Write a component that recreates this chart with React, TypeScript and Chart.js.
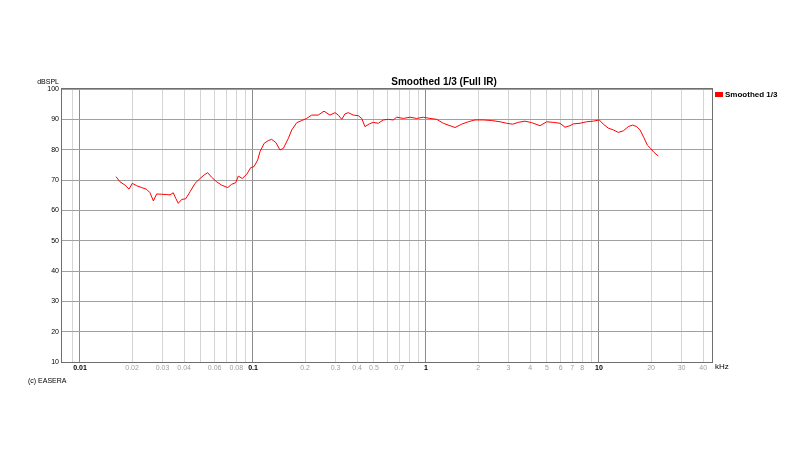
import React, { useEffect, useRef } from "react";
import { Chart, registerables } from "chart.js";

Chart.register(...registerables);

const freqKHz = [
  0.01615, 0.01703, 0.0182, 0.0192, 0.02006, 0.02128, 0.02275, 0.02431, 0.02541, 0.02655,
  0.02775, 0.02967, 0.03171, 0.03314, 0.03461, 0.03574, 0.037, 0.03873, 0.04085, 0.04325,
  0.04624, 0.04943, 0.05228, 0.0547, 0.05768, 0.06166, 0.06592, 0.07145, 0.07534, 0.07943,
  0.08222, 0.0867, 0.09204, 0.09705, 0.1014, 0.1064, 0.1097, 0.1161, 0.1225, 0.1282,
  0.1358, 0.1432, 0.1497, 0.16, 0.1675, 0.179, 0.1913, 0.2043, 0.2184, 0.2384,
  0.2573, 0.2786, 0.2979, 0.3112, 0.3258, 0.3402, 0.3556, 0.3801, 0.4062, 0.4251,
  0.4439, 0.47, 0.4955, 0.5297, 0.5662, 0.6053, 0.6471, 0.6771, 0.7395, 0.8081,
  0.8835, 0.9647, 1.054, 1.153, 1.259, 1.376, 1.471, 1.608, 1.756, 1.92,
  2.145, 2.398, 2.678, 2.928, 3.171, 3.416, 3.735, 4.083, 4.56, 4.985,
  5.443, 5.952, 6.362, 6.799, 7.103, 7.767, 8.49, 9.272, 10.04, 10.59,
  11.32, 12.1, 12.93, 13.82, 14.77, 15.66, 16.52, 17.26, 18.2, 19.02,
  19.9, 20.79, 22.02,
];

const splDb = [
  71.1, 69.4, 68.3, 67.0, 68.9, 68.1, 67.5, 66.9, 65.8, 63.1,
  65.4, 65.3, 65.2, 65.1, 65.8, 64.0, 62.3, 63.6, 63.8, 66.1,
  68.9, 70.5, 71.7, 72.4, 70.9, 69.4, 68.3, 67.5, 68.6, 69.1,
  71.3, 70.5, 71.9, 74.1, 74.4, 76.6, 79.3, 82.1, 83.0, 83.4,
  82.3, 79.9, 80.4, 83.7, 86.5, 88.9, 89.6, 90.3, 91.4, 91.4,
  92.7, 91.4, 92.2, 91.4, 90.0, 91.8, 92.2, 91.4, 91.2, 90.3,
  87.6, 88.5, 89.0, 88.7, 89.8, 90.0, 89.8, 90.7, 90.3, 90.7,
  90.3, 90.7, 90.3, 90.0, 88.7, 87.9, 87.3, 88.4, 89.2, 89.8,
  89.8, 89.6, 89.2, 88.7, 88.4, 89.0, 89.4, 88.9, 87.9, 89.2,
  89.0, 88.7, 87.4, 87.9, 88.5, 88.7, 89.2, 89.4, 89.8, 88.4,
  87.1, 86.5, 85.7, 86.2, 87.6, 88.1, 87.6, 86.5, 83.9, 81.5,
  80.4, 79.1, 77.9,
];

const xGridValues = [
  0.009, 0.01, 0.02, 0.03, 0.04, 0.05, 0.06, 0.07, 0.08, 0.09,
  0.1, 0.2, 0.3, 0.4, 0.5, 0.6, 0.7, 0.8, 0.9,
  1, 2, 3, 4, 5, 6, 7, 8, 9,
  10, 20, 30, 40,
];
const xLabelled = [
  0.01, 0.02, 0.03, 0.04, 0.06, 0.08, 0.1, 0.2, 0.3, 0.4, 0.5, 0.7,
  1, 2, 3, 4, 5, 6, 7, 8, 10, 20, 30, 40,
];
const decades = [0.01, 0.1, 1, 10];

const seriesLabel = "Smoothed 1/3";
const titleText = "Smoothed 1/3 (Full IR)";
const yUnit = "dBSPL";
const xUnit = "kHz";
const credit = "(c) EASERA";

const FONT = "'Liberation Sans', Arial, sans-serif";

const isDecade = (v: number) => decades.some((d) => Math.abs(d - v) < 1e-9);
const isLabelled = (v: number) => xLabelled.some((d) => Math.abs(d - v) / d < 1e-6);

const decor = {
  id: "decor",
  afterDraw(chart: any) {
    const { ctx, chartArea } = chart;
    const { left, right, top, bottom } = chartArea;
    ctx.save();
    ctx.strokeStyle = "#6e6e6e";
    ctx.lineWidth = 1;
    ctx.strokeRect(left - 0.5, top - 0.5, right - left + 1, bottom - top + 1);

    ctx.fillStyle = "#000";
    ctx.textBaseline = "middle";
    ctx.font = `bold 10px ${FONT}`;
    ctx.textAlign = "center";
    ctx.fillText(titleText, 444, 82);

    ctx.font = `7px ${FONT}`;
    ctx.textAlign = "right";
    ctx.fillText(yUnit, 59, 82);

    ctx.textAlign = "left";
    ctx.font = `8px ${FONT}`;
    ctx.fillText(xUnit, 715, 367);
    ctx.font = `7px ${FONT}`;
    ctx.fillText(credit, 28, 381);

    const ds = chart.data.datasets[0];
    ctx.fillStyle = ds.borderColor;
    ctx.fillRect(715, 92, 8, 5);
    ctx.fillStyle = "#000";
    ctx.font = `bold 8px ${FONT}`;
    ctx.fillText(ds.label, 725, 94.5);
    ctx.restore();
  },
};

export default function App() {
  const canvasRef = useRef<HTMLCanvasElement | null>(null);

  useEffect(() => {
    if (!canvasRef.current) return;
    const chart = new Chart(canvasRef.current, {
      type: "line",
      data: {
        datasets: [
          {
            label: seriesLabel,
            data: freqKHz.map((f, i) => ({ x: f, y: splDb[i] })),
            borderColor: "#ff0000",
            backgroundColor: "#ff0000",
            borderWidth: 1,
            pointRadius: 0,
            tension: 0,
            fill: false,
          },
        ],
      },
      options: {
        responsive: false,
        animation: false,
        devicePixelRatio: 1,
        layout: { padding: { top: 89, right: 88, left: 0, bottom: 0 } },
        plugins: {
          legend: { display: false },
          tooltip: { enabled: false },
          title: { display: false },
        },
        scales: {
          x: {
            type: "logarithmic",
            min: 0.00787,
            max: 45,
            afterBuildTicks: (scale: any) => {
              scale.ticks = xGridValues.map((v) => ({ value: v }));
            },
            afterFit: (scale: any) => {
              scale.height = 88;
            },
            border: { display: false },
            grid: {
              drawTicks: false,
              tickLength: 0,
              color: (c: any) => (c.tick && isDecade(c.tick.value) ? "#8c8c8c" : "#d4d4d4"),
              lineWidth: 1,
            },
            ticks: {
              autoSkip: false,
              maxRotation: 0,
              padding: 2,
              callback: (v: any) => (isLabelled(Number(v)) ? String(Number(v)) : ""),
              color: (c: any) => (c.tick && isDecade(c.tick.value) ? "#000" : "#a0a0a0"),
              font: (c: any) => ({
                family: FONT,
                size: 7,
                weight: c.tick && isDecade(c.tick.value) ? "bold" : "normal",
              }),
            },
          },
          y: {
            type: "linear",
            min: 10,
            max: 100,
            afterFit: (scale: any) => {
              scale.width = 62;
            },
            border: { display: false },
            grid: { drawTicks: false, tickLength: 0, color: "#a0a0a0", lineWidth: 1 },
            ticks: {
              stepSize: 10,
              padding: 3,
              color: "#000",
              font: { family: FONT, size: 7 },
            },
          },
        },
      },
      plugins: [decor],
    } as any);
    return () => chart.destroy();
  }, []);

  return (
    <div style={{ position: "absolute", left: 0, top: 0, width: 800, height: 450, background: "#fff" }}>
      <canvas ref={canvasRef} width={800} height={450} />
    </div>
  );
}
